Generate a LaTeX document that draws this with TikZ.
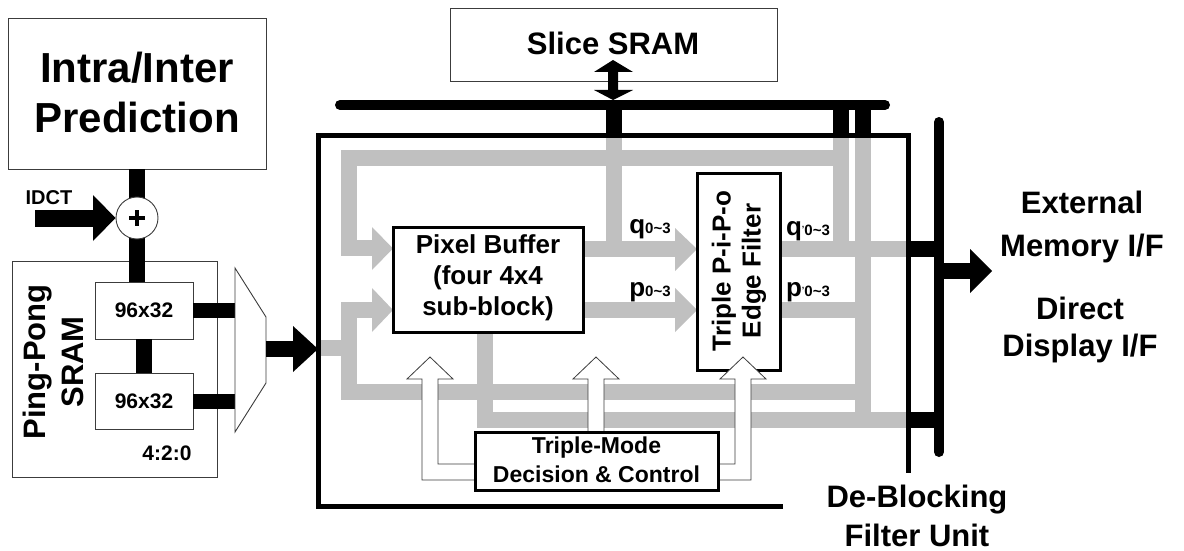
\documentclass[tikz,border=0pt]{standalone}
\usepackage{fontspec}
\setmainfont{Liberation Sans}
\definecolor{busgray}{RGB}{192,192,192}
\definecolor{thinline}{RGB}{60,60,60}
\newcommand\myfs[2]{\fontsize{#1}{#2}\selectfont\bfseries}
\tikzset{
  thinbox/.style={draw=thinline, line width=0.9pt, fill=white, inner sep=0pt},
  thickbox/.style={draw=black, line width=3pt, fill=white, inner sep=0pt},
  bus/.style={line width=16pt, busgray, line join=miter},
  blk/.style={line width=16pt, black},
  rail/.style={line width=10pt, black, line cap=round},
  hollow/.style={fill=white, draw=thinline, line width=0.8pt, line join=miter},
  lbl/.style={inner sep=0pt, align=center}
}
\begin{document}
\begin{tikzpicture}[x=1pt,y=-1pt]
\useasboundingbox (0,0) rectangle (1184,551);

% ---------- left: prediction, adder, ping-pong SRAM ----------
\node[thinbox, minimum width=258pt, minimum height=151pt] (pred) at (137,93.5) {};
\node[lbl, font=\myfs{42}{50}] at (137,92) {Intra/Inter\\Prediction};

\node[thinbox, minimum width=205pt, minimum height=216pt] (pp) at (114.5,369) {};
\node[lbl, rotate=90, font=\myfs{31}{38}] at (53,362) {Ping-Pong\\SRAM};
\node[lbl, font=\myfs{21}{24}] at (167,453) {4:2:0};

\coordinate (sramAtop) at (137,282);
\draw[blk] (pred.south) -- (sramAtop);
\node[thinbox, minimum size=42pt, circle] (add) at (137,218) {};
\draw[line width=4.5pt] (add.center) ++(-8,0) -- ++(16,0);
\draw[line width=4.5pt] (add.center) ++(0,-8) -- ++(0,16);

\coordinate (idctin) at (35,218);
\coordinate (idcthead) at (93,218);
\draw[line width=17pt] (idctin) -- (idcthead);
\fill (93,195) -- (add.west) -- (93,241) -- cycle;
\node[lbl, font=\myfs{20}{22}] at (49,198) {IDCT};

\node[thinbox, minimum width=98pt, minimum height=57pt] (sramA) at (144,310.5) {};
\node[thinbox, minimum width=98pt, minimum height=56pt] (sramB) at (144,401) {};
\draw[blk] (sramA.south) -- (sramB.north);
\node[lbl, font=\myfs{21}{24}] at (sramA) {96x32};
\node[lbl, font=\myfs{21}{24}] at (sramB) {96x32};

\coordinate (muxA) at (235,310.5);
\coordinate (muxB) at (235,401);
\draw[line width=15pt] (sramA.east) -- (muxA);
\draw[line width=15pt] (sramB.east) -- (muxB);
\draw[thinbox] (235,268) -- (266,317) -- (266,383) -- (235,432) -- cycle;
\coordinate (muxout) at (266,349);
\coordinate (muxhead) at (293,349);
\draw[line width=16pt] (muxout) -- (muxhead);
\fill (293,326) -- (318,349) -- (293,372) -- cycle;

% ---------- slice SRAM and top rail ----------
\node[thinbox, minimum width=327pt, minimum height=73pt] (slice) at (613.5,44.5) {};
\node[lbl, font=\myfs{31}{36}] at (613,43) {Slice SRAM};

% ---------- gray data paths inside the filter unit ----------
\draw[bus] (841,158) -- (349,158) -- (349,248) -- (372,248);
\draw[bus] (841,137) -- (841,249);
\draw[bus] (863,137) -- (863,420);
\draw[bus] (614,137) -- (614,249);
\draw[bus] (583,249) -- (675,249);
\draw[bus] (583,310) -- (675,310);
\draw[bus] (780,249) -- (907,249);
\draw[bus] (780,310) -- (863,310);
\draw[bus] (318,348) -- (349,348);
\draw[bus] (372,310) -- (349,310) -- (349,392) -- (863,392);
\draw[bus] (485,332) -- (485,420) -- (907,420);
\fill[busgray] (372,227) -- (393,248.5) -- (372,270) -- cycle;
\fill[busgray] (372,288) -- (393,310) -- (372,332) -- cycle;
\fill[busgray] (675,228) -- (697,249) -- (675,271) -- cycle;
\fill[busgray] (675,288) -- (697,310) -- (675,332) -- cycle;

% ---------- black rails and taps ----------
\draw[rail] (340,105) -- (885,105);
\draw[blk] (614,105) -- (614,137);
\draw[blk] (841,105) -- (841,137);
\draw[blk] (863,105) -- (863,137);
\fill (613,60) -- (633,72) -- (618,72) -- (618,90) -- (633,90) -- (613,100)
      -- (594,90) -- (608,90) -- (608,72) -- (594,72) -- cycle;

\draw[rail] (939,122) -- (939,452);
\draw[blk] (906,249) -- (939,249);
\draw[blk] (906,420) -- (939,420);
\coordinate (outtail) at (939,271);
\coordinate (outhead) at (970,271);
\draw[blk] (outtail) -- (outhead);
\fill (970,249) -- (992,271) -- (970,293) -- cycle;

% filter unit outline (open at the lower right corner)
\draw[line width=5pt, line join=miter] (783,506) -- (318,506) -- (318,135) -- (908,135) -- (908,473);

% ---------- processing blocks ----------
\node[thickbox, minimum width=190pt, minimum height=105pt] (pbuf) at (488,279.5) {};
\node[lbl, font=\myfs{26}{31}] at (488,278) {Pixel Buffer\\(four 4x4\\sub-block)};

\node[thickbox, minimum width=83pt, minimum height=197pt] (filt) at (738.5,271.5) {};
\node[lbl, rotate=90, font=\myfs{26}{30}] at (739,271) {Triple P-i-P-o\\Edge Filter};

% control arrows from the decision block
\draw[hollow] (475,464) -- (438,464) -- (438,379) -- (453,379) -- (430,357) -- (407,379)
      -- (422,379) -- (422,480) -- (475,480);
\draw[hollow] (588,432) -- (588,379) -- (573,379) -- (596,357) -- (619,379) -- (604,379) -- (604,432);
\draw[hollow] (718,464) -- (735,464) -- (735,379) -- (720,379) -- (743,357) -- (766,379)
      -- (751,379) -- (751,480) -- (718,480);

\node[thickbox, minimum width=243pt, minimum height=58pt] (tmd) at (596.5,461) {};
\node[lbl, font=\myfs{23}{29}] at (596.5,460) {Triple-Mode\\Decision \& Control};

% ---------- signal labels ----------
\node[lbl, anchor=base, font=\myfs{26}{26}] at (650,233) {q{\myfs{15}{15}0\textasciitilde 3}};
\node[lbl, anchor=base, font=\myfs{26}{26}] at (650,296) {p{\myfs{15}{15}0\textasciitilde 3}};
\node[lbl, anchor=base, font=\myfs{26}{26}] at (808,235) {q{\myfs{15}{15}\raisebox{3pt}{\fontsize{9}{9}\selectfont'}0\textasciitilde 3}};
\node[lbl, anchor=base, font=\myfs{26}{26}] at (808,296) {p{\myfs{15}{15}\raisebox{3pt}{\fontsize{9}{9}\selectfont'}0\textasciitilde 3}};

% ---------- external interfaces ----------
\node[lbl, font=\myfs{31}{43}] at (1082,227) {External\\Memory I/F};
\node[lbl, font=\myfs{31}{37}] at (1080,330) {Direct\\Display I/F};
\node[lbl, font=\myfs{31}{39}] at (917,516) {De-Blocking\\Filter Unit};
\end{tikzpicture}
\end{document}
